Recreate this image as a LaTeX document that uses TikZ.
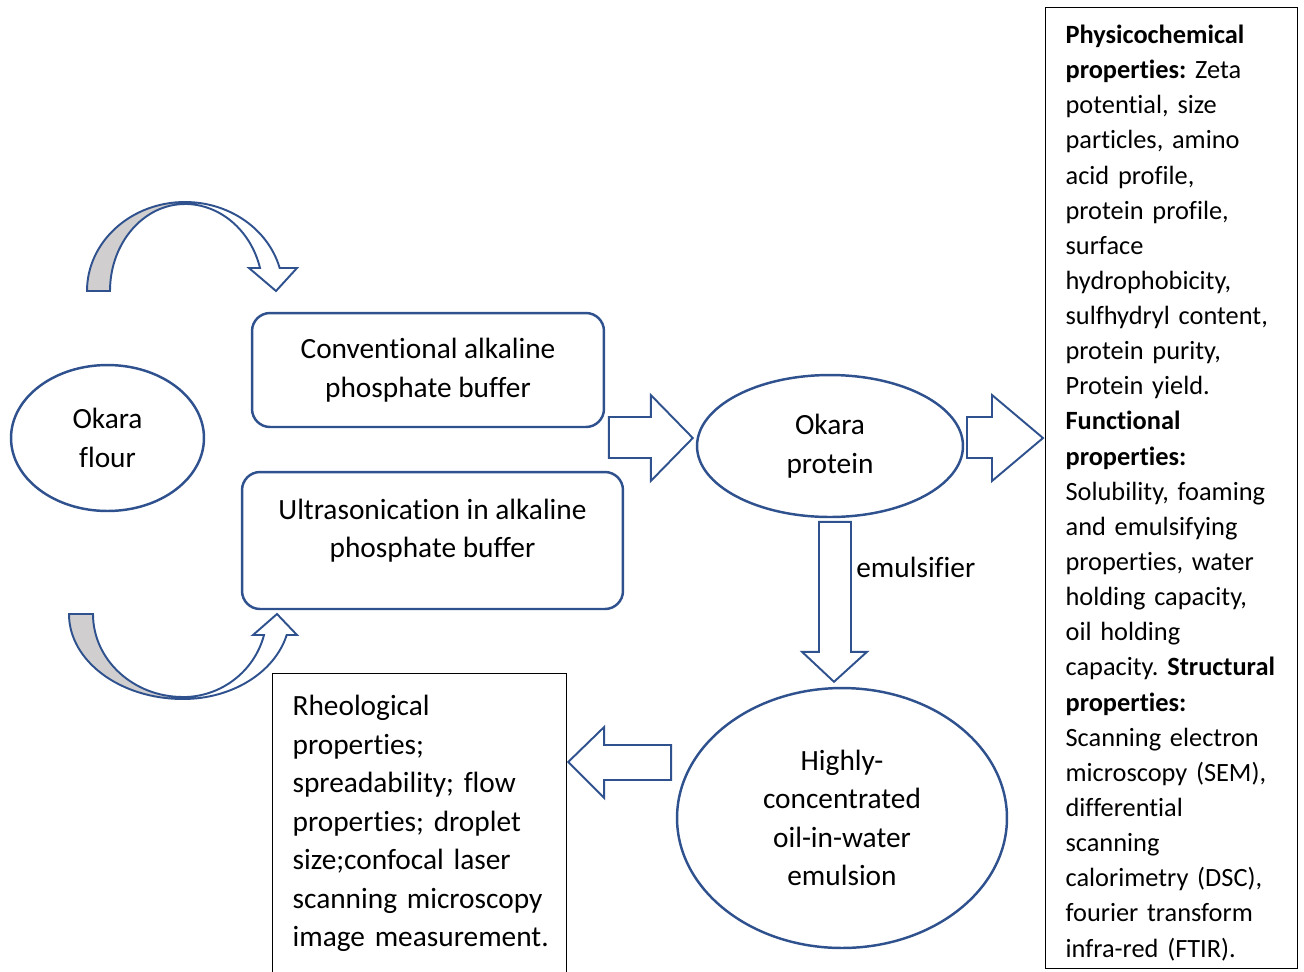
\documentclass[tikz,border=0pt]{standalone}
\usepackage{fontspec}
\setmainfont{Carlito}[Ligatures=NoCommon]
\usetikzlibrary{calc}
\usetikzlibrary{positioning}
\usetikzlibrary{shapes.geometric}
\definecolor{okblue}{RGB}{47,82,143}
\definecolor{okgrey}{RGB}{208,206,206}
\frenchspacing
\hyphenpenalty=10000
\exhyphenpenalty=10000
\tikzset{
	roundbox/.style={
		rectangle, 
		rounded corners=0.36cm, 
		draw=okblue, line width=1.4pt,
		align=center,
		font=\fontsize{16.7}{21.9}\selectfont},
	oval/.style={
		ellipse,
		draw=okblue, line width=1.4pt,
		inner sep=0pt,
		align=center,
		font=\fontsize{16.7}{21.9}\selectfont},
	textbox/.style={
		rectangle,
		draw=black, line width=0.7pt,
		align=left,
		anchor=north west,
		inner xsep=0.4cm},
	fatarrow/.style={draw=okblue, line width=1.1pt, fill=white, line join=miter},
	bentarrow/.style={draw=okblue, line width=1.1pt, line join=miter},
}

\begin{document}
\begin{tikzpicture}
		[x=0.02cm, y=-0.02cm]
		\useasboundingbox (0,0) rectangle (1304,971);
		\node[oval, minimum width=3.86cm, minimum height=2.92cm] (flour) at (107.5,438) {Okara\\flour};
		\node[roundbox, minimum width=7.04cm, minimum height=2.28cm] (conv) at (428,370) {Conventional alkaline\\phosphate buffer};
		\node[roundbox, minimum width=7.62cm, minimum height=2.74cm] (ultra) at (432.5,540.5) {};
		\node[align=center, font=\fontsize{16.7}{21.9}\selectfont] (ultratxt) at (432.5,530.5) {Ultrasonication in alkaline\\phosphate buffer};
		\node[oval, minimum width=5.32cm, minimum height=2.84cm] (prot) at (830,446) {Okara\\protein};
		\node[oval, minimum width=6.6cm, minimum height=5.2cm] (emul) at (842,818) {Highly-\\concentrated\\oil-in-water\\emulsion};
		\node[textbox, minimum width=5.88cm, minimum height=6.3cm, text width=5.08cm,
		font=\fontsize{16.7}{21.9}\selectfont] (rheo) at (272,673) {Rheological\\properties;\\spreadability; flow\\properties; droplet\\size;confocal laser\\scanning microscopy\\\mbox{image measurement.}\rule[-11.4pt]{0pt}{0pt}};
		\node[textbox, minimum width=5.04cm, minimum height=19.22cm, text width=4.24cm,
		font=\fontsize{15}{20}\selectfont] (props) at (1045,7) {\rule{0pt}{16pt}\textbf{Physicochemical}\\\textbf{properties:} Zeta\\potential, size\\particles, amino\\acid profile,\\protein profile,\\surface\\hydrophobicity,\\sulfhydryl content,\\protein purity,\\Protein yield.\\\textbf{Functional}\\\textbf{properties:}\\Solubility, foaming\\and emulsifying\\properties, water\\holding capacity,\\oil holding\\capacity. \textbf{Structural}\\\textbf{properties:}\\Scanning electron\\microscopy (SEM),\\differential\\scanning\\calorimetry (DSC),\\fourier transform\\infra-red (FTIR).};
		\node[anchor=west, inner sep=0pt, font=\fontsize{16.7}{21.9}\selectfont] (emtxt) at (856,567) {emulsifier};
	
		% bent arrows at the flour
		\filldraw[bentarrow, fill=okgrey] (87,291) arc[start angle=180, end angle=270, x radius=98, y radius=89] -- (185,204) arc[start angle=270, end angle=180, x radius=75, y radius=87] -- cycle;
		\draw[bentarrow, fill=white] (185,202) arc[start angle=270, end angle=345, x radius=98, y radius=89] -- (297,268) -- (276,291) -- (249,268) -- (260,268) arc[start angle=344.7, end angle=270, x radius=78, y radius=87] -- cycle;
		\filldraw[bentarrow, fill=okgrey] (69,614) arc[start angle=180, end angle=90, x radius=114, y radius=85] -- (183,697) arc[start angle=90, end angle=180, x radius=90, y radius=83] -- cycle;
		\draw[bentarrow, fill=white] (183,699) arc[start angle=90, end angle=14.3, x radius=107, y radius=85] -- (297,635) -- (277,614) -- (253,635) -- (264,635) arc[start angle=14.6, end angle=90, x radius=84, y radius=83] -- cycle;
	
		% block arrows
		\draw[fatarrow] ($(prot.west)+(-3,-8)$) -- ++(-42,-43) -- ++(0,22) -- ++(-42,0) -- ++(0,41) -- ++(42,0) -- ++(0,23) -- cycle;
		\draw[fatarrow] ($(prot.east -| props.west)+(-2,-8)$) -- ++(-51,-43) -- ++(0,22) -- ++(-25,0) -- ++(0,41) -- ++(25,0) -- ++(0,23) -- cycle;
		\draw[fatarrow] ($(emul.north)+(-8,-5)$) -- ++(-32,-30) -- ++(17,0) -- ++(0,-130) -- ++(32,0) -- ++(0,130) -- ++(16,0) -- cycle;
		\draw[fatarrow] ($(rheo.north east)+(1,89)$) -- ++(36,-35) -- ++(0,18) -- ++(67,0) -- ++(0,35) -- ++(-67,0) -- ++(0,18) -- cycle;
		\end{tikzpicture}
\end{document}
